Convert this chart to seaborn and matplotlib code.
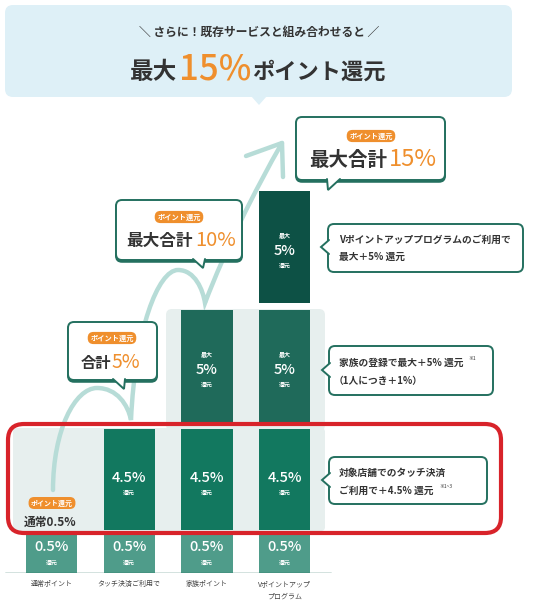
import numpy as np
import matplotlib
matplotlib.use('Agg')
import matplotlib.pyplot as plt
import seaborn as sns
from matplotlib.patches import FancyBboxPatch, Polygon, PathPatch
from matplotlib.path import Path

# data
categories = ['通常ポイント', 'タッチ決済ご利用で', '家族ポイント', 'Vポイントアップ\nプログラム']
base_rate = [0.5, 0.5, 0.5, 0.5]
touch_rate = [0, 4.5, 4.5, 4.5]
family_rate = [0, 0, 5, 5]
vup_rate = [0, 0, 0, 5]
totals = [0.5, 5, 10, 15]

# colours
base_c = '#4f9c8a'
touch_c = '#12785f'
family_c = '#1f6a5a'
vup_c = '#0d5145'
panel_c = '#e7efee'
arc_c = '#b7dcd7'
border_c = '#24705f'
orange = '#ef8f2d'
red = '#d8232a'
dark = '#333333'

sns.set_theme(style='white')
plt.rcParams['font.family'] = ['Noto Sans CJK JP', 'DejaVu Sans']

W, H = 534, 600
fig = plt.figure(figsize=(W / 100, H / 100), dpi=100)

# background axes in pixel coords
ax_bg = fig.add_axes([0, 0, 1, 1], zorder=0)
ax_bg.set_xlim(0, W)
ax_bg.set_ylim(H, 0)
ax_bg.axis('off')

# light panels behind the stacks
ax_bg.add_patch(FancyBboxPatch((13, 428), 312, 103, boxstyle='round,pad=0,rounding_size=4',
                               fc=panel_c, ec='none'))
ax_bg.add_patch(FancyBboxPatch((166, 309), 159, 122, boxstyle='round,pad=0,rounding_size=6',
                               fc=panel_c, ec='none'))

# rising arc
verts = [(53, 490), (53, 430), (75, 388), (97, 388),
         (117, 388), (128, 405), (131, 420),
         (135, 330), (158, 270), (178, 270),
         (195, 270), (203, 290), (205, 303),
         (225, 250), (255, 190), (282, 143)]
codes = [Path.MOVETO] + [Path.CURVE4] * 15
ax_bg.add_patch(PathPatch(Path(verts, codes), fc='none', ec=arc_c, lw=3.2, capstyle='round'))
ax_bg.plot([246, 282, 283], [156, 143, 177], color=arc_c, lw=3.2,
           solid_capstyle='round', solid_joinstyle='round')

# bars axes
px_unit = 22.4
x_unit = 77.7
ax = fig.add_axes([0, 27 / H, 1, 573 / H], zorder=1)
ax.patch.set_alpha(0)
x0 = -51.5 / x_unit
ax.set_xlim(x0, x0 + W / x_unit)
ax.set_ylim(0, 573 / px_unit)
for s in ax.spines.values():
    s.set_visible(False)

x = np.arange(len(categories))
tiers = [base_rate, touch_rate, family_rate, vup_rate]
tier_colors = [base_c, touch_c, family_c, vup_c]
gaps = [0.18, 0.31, 0.31, 0]
min_h = 1.75
bottom = np.zeros(len(categories))
segs = []
for vals, c, g in zip(tiers, tier_colors, gaps):
    v = np.array(vals, dtype=float)
    h = np.where(v > 0, np.maximum(v, min_h), 0)
    ax.bar(x, h, bottom=bottom, width=0.66, color=c, linewidth=0)
    segs.append((v, bottom.copy(), h))
    bottom = bottom + h + g

def label(xi, yc, txt, dy, size, weight='normal'):
    ax.annotate(txt, (xi, yc), xytext=(0, dy), textcoords='offset points',
                ha='center', va='center', color='white', fontsize=size, fontweight=weight)

for ti, (v, b, h) in enumerate(segs):
    for xi in x:
        if v[xi] <= 0:
            continue
        yc = b[xi] + h[xi] / 2
        if ti == 0:
            label(xi, yc, f'{v[xi]:g}%', 4.7, 10.5, 'medium')
            label(xi, yc, '還元', -6.8, 4.3, 'bold')
        elif ti == 1:
            label(xi, yc, f'{v[xi]:g}%', 0.8, 10.5, 'medium')
            label(xi, yc, '還元', -9.5, 4.3, 'bold')
        else:
            label(xi, yc, '最大', 8.5, 4.3, 'bold')
            label(xi, yc, f'{v[xi]:g}%', -2.8, 10.5, 'medium')
            label(xi, yc, '還元', -13.5, 4.3, 'bold')

ax.set_xticks(x)
ax.set_xticklabels(categories, fontsize=5, color='#444444', linespacing=1.7)
ax.set_yticks([])
ax.tick_params(axis='x', length=0, pad=5)
ax.axhline(0, xmin=5 / W, xmax=331 / W, color=border_c, lw=1)

# foreground axes in pixel coords
fg = fig.add_axes([0, 0, 1, 1], zorder=2)
fg.patch.set_alpha(0)
fg.set_xlim(0, W)
fg.set_ylim(H, 0)
fg.axis('off')

# header
fg.add_patch(FancyBboxPatch((5, 5), 507, 92, boxstyle='round,pad=0,rounding_size=8',
                            fc='#def0f7', ec='none'))
fg.add_patch(Polygon([(251, 96), (259, 105), (267, 96)], closed=True, fc='#def0f7', ec='none'))
fg.text(259, 32, '＼ さらに！既存サービスと組み合わせると ／', ha='center', va='center',
        fontsize=8.5, fontweight='bold', color=dark)
fg.text(177, 79, '最大', ha='right', va='baseline', fontsize=17, fontweight='bold', color=dark)
fg.text(179, 79, f'{totals[3]:g}%', ha='left', va='baseline', fontsize=25, fontweight='medium', color=orange)
fg.text(252, 79, 'ポイント還元', ha='left', va='baseline', fontsize=16, fontweight='bold', color=dark)

def pill(xc, yc, size=5.2):
    fg.text(xc, yc, 'ポイント還元', ha='center', va='center', fontsize=size, fontweight='bold',
            color='white', bbox=dict(boxstyle='round,pad=0.35,rounding_size=0.8', fc=orange, ec='none'))

def callout(bx0, by0, bx1, by1, tail, shadow=True):
    if shadow:
        fg.add_patch(FancyBboxPatch((bx0, by0 + 1.8), bx1 - bx0, by1 - by0,
                                    boxstyle='round,pad=0,rounding_size=6', fc=border_c, ec=border_c, lw=1.4))
    fg.add_patch(FancyBboxPatch((bx0, by0), bx1 - bx0, by1 - by0,
                                boxstyle='round,pad=0,rounding_size=6', fc='white', ec=border_c, lw=1.4))
    fg.add_patch(Polygon(tail, closed=True, fc='white', ec='none'))
    tx, ty = zip(*tail)
    fg.plot(tx, ty, color=border_c, lw=1.4, solid_joinstyle='miter')

# total callouts
callout(68, 322, 157, 380, [(113, 379), (124, 389), (125, 379)])
pill(112, 338)
fg.text(111, 368, '合計', ha='right', va='baseline', fontsize=11, fontweight='bold', color=dark)
fg.text(112, 368, f'{totals[1]:g}%', ha='left', va='baseline', fontsize=14, color=orange)

callout(116, 200, 242, 260, [(193, 259), (203, 268), (205, 259)])
pill(179, 217)
fg.text(193, 246, '最大合計', ha='right', va='baseline', fontsize=12, fontweight='bold', color=dark)
fg.text(195, 246, f'{totals[2]:g}%', ha='left', va='baseline', fontsize=14.5, color=orange)

callout(296, 117, 445, 180, [(327, 179), (328, 190), (340, 179)])
pill(371, 136)
fg.text(387, 166, '最大合計', ha='right', va='baseline', fontsize=14, fontweight='bold', color=dark)
fg.text(389, 166, f'{totals[3]:g}%', ha='left', va='baseline', fontsize=17, color=orange)

# side callouts
callout(328, 224, 523, 272, [(329, 240), (321, 247), (329, 254)], shadow=False)
fg.text(339, 240, 'Vポイントアッププログラムのご利用で', ha='left', va='center',
        fontsize=7, fontweight='bold', color=dark)
fg.text(339, 257, '最大＋5% 還元', ha='left', va='center', fontsize=7, fontweight='bold', color=dark)

callout(329, 346, 493, 395, [(330, 363), (322, 370), (330, 377)], shadow=False)
fg.text(339, 363, '家族の登録で最大＋5% 還元', ha='left', va='center', fontsize=7, fontweight='bold', color=dark)
fg.text(468, 359, '※1', ha='left', va='center', fontsize=3.5, color=dark)
fg.text(334, 381, '（1人につき＋1%）', ha='left', va='center', fontsize=7, fontweight='bold', color=dark)

callout(329, 457, 487, 504, [(330, 473), (322, 480), (330, 487)], shadow=False)
fg.text(339, 473, '対象店舗でのタッチ決済', ha='left', va='center', fontsize=7, fontweight='bold', color=dark)
fg.text(339, 491, 'ご利用で＋4.5% 還元', ha='left', va='center', fontsize=7, fontweight='bold', color=dark)
fg.text(439, 487, '※1~3', ha='left', va='center', fontsize=3.5, color=dark)

# first column notes
pill(52, 503, 5)
fg.text(50, 522, '通常0.5%', ha='center', va='center', fontsize=8.5, fontweight='bold', color=dark)

# red highlight frame
fg.add_patch(FancyBboxPatch((8, 424), 493, 109, boxstyle='round,pad=0,rounding_size=16',
                            fc='none', ec=red, lw=3))

fig.savefig('out.png', dpi=100)
